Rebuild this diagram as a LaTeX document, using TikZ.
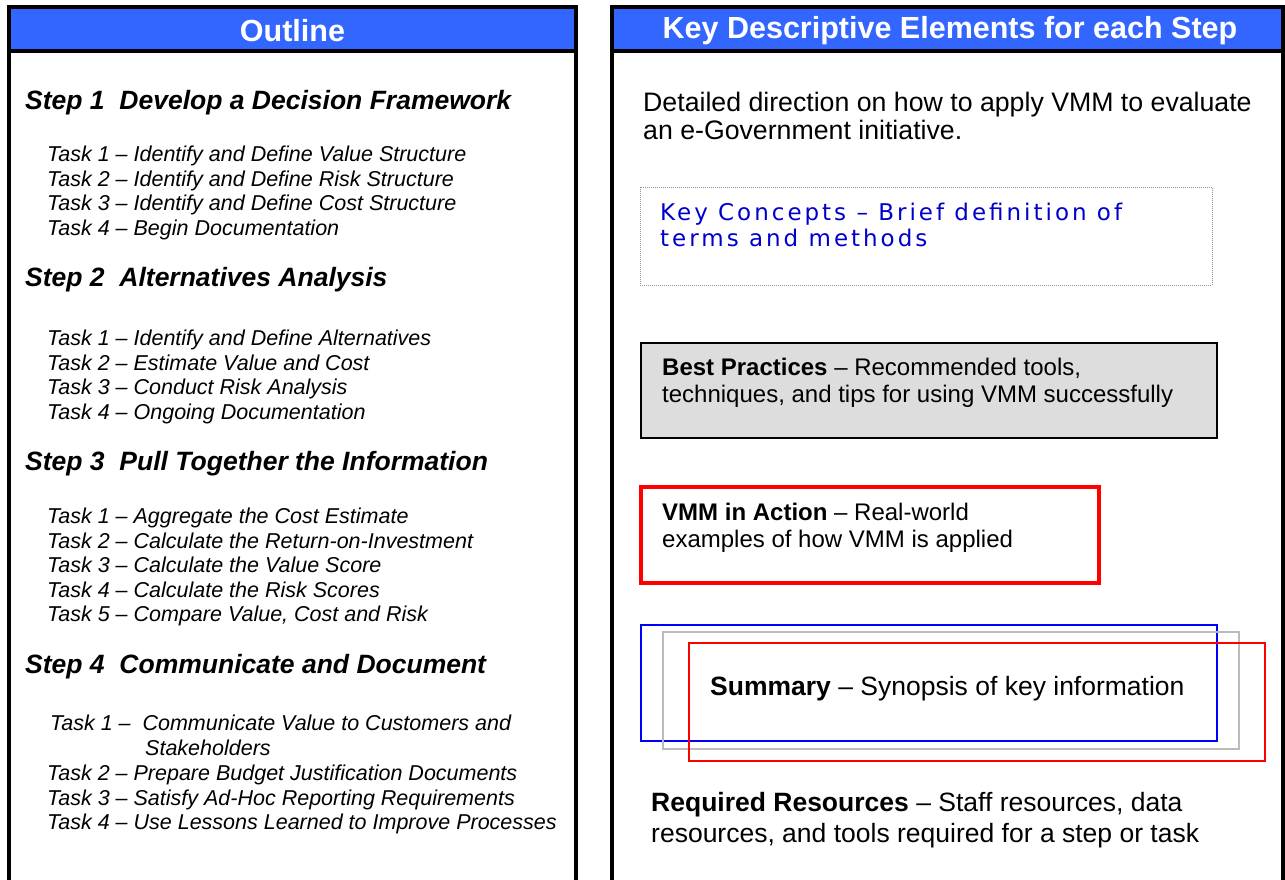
\documentclass[tikz,border=0pt]{standalone}
\usepackage{fontspec}
\setmainfont{Liberation Sans}
\newfontfamily\kcfont[LetterSpace=13]{DejaVu Sans}
\definecolor{hdrblue}{HTML}{3366FF}
\definecolor{kcblue}{HTML}{0000CC}
\definecolor{bpgray}{HTML}{DDDDDD}
\definecolor{sumgray}{HTML}{BBBBBB}
\tikzset{
  panelline/.style={line width=3.5pt, black},
  hdrtitle/.style={text=white, font=\fontsize{30.5}{34}\selectfont\bfseries, inner sep=0pt},
  steptitle/.style={anchor=west, inner sep=0pt, font=\fontsize{26.5}{30}\selectfont\bfseries\itshape},
  tasklist/.style={anchor=north west, inner sep=0pt, align=left, font=\fontsize{21.5}{24.5}\selectfont\itshape},
  bodytext/.style={anchor=north west, inner sep=0pt, align=left},
}
\begin{document}
\begin{tikzpicture}[x=1pt,y=-1pt]
\useasboundingbox (0,0) rectangle (1285,879);
\clip (0,0) rectangle (1285,879);
% ---------- left panel
\fill[hdrblue] (9,7) rectangle (576,51);
\draw[panelline] (9,900) -- (9,7) -- (576,7) -- (576,900);
\draw[panelline] (9,51) -- (576,51);
\node[hdrtitle] (outl) at (292.5,31) {Outline};
% ---------- right panel
\fill[hdrblue] (612,7) rectangle (1283,51);
\draw[panelline] (612,900) -- (612,7) -- (1283,7) -- (1283,900);
\draw[panelline] (612,51) -- (1283,51);
\node[hdrtitle] (kde) at (950,31) {Key Descriptive Elements for each Step};
% ---------- steps
\node[steptitle] (s1) at (25,103) {Step 1\ \ Develop a Decision Framework};
\node[tasklist] (t1) at (47,146) {Task 1 -- Identify and Define Value Structure\\Task 2 -- Identify and Define Risk Structure\\Task 3 -- Identify and Define Cost Structure\\Task 4 -- Begin Documentation};
\node[steptitle] (s2) at (25,280) {Step 2\ \ Alternatives Analysis};
\node[tasklist] (t2) at (47,330) {Task 1 -- Identify and Define Alternatives\\Task 2 -- Estimate Value and Cost\\Task 3 -- Conduct Risk Analysis\\Task 4 -- Ongoing Documentation};
\node[steptitle] (s3) at (25,464) {Step 3\ \ Pull Together the Information};
\node[tasklist] (t3) at (47,508) {Task 1 -- Aggregate the Cost Estimate\\Task 2 -- Calculate the Return-on-Investment\\Task 3 -- Calculate the Value Score\\Task 4 -- Calculate the Risk Scores\\Task 5 -- Compare Value, Cost and Risk};
\node[steptitle] (s4) at (25,667) {Step 4\ \ Communicate and Document};
\node[tasklist] (t4a) at (50,715) {Task 1 --\ \ Communicate Value to Customers and\\\hspace*{95pt}Stakeholders};
\node[tasklist] (t4b) at (47,765) {Task 2 -- Prepare Budget Justification Documents\\Task 3 -- Satisfy Ad-Hoc Reporting Requirements\\Task 4 -- Use Lessons Learned to Improve Processes};
% ---------- right side content
\node[bodytext, font=\fontsize{26.7}{28}\selectfont] (intro) at (643,92) {Detailed direction on how to apply VMM to evaluate\\an e-Government initiative.};
\draw[sumgray!80!black, densely dotted, line width=1pt] (640,187) rectangle (1212,285);
\node[bodytext, text=kcblue, font=\fontsize{23}{26}\kcfont] (kc) at (660,203) {Key Concepts – Brief definition of\\terms and methods};
\draw[fill=bpgray, draw=black, line width=2pt] (641,343) rectangle (1217,438);
\node[bodytext, font=\fontsize{24}{27}\selectfont] (bp) at (662,358) {\textbf{Best Practices} -- Recommended tools,\\techniques, and tips for using VMM successfully};
\draw[red, line width=3.5pt] (641,487) rectangle (1099,583);
\node[bodytext, font=\fontsize{24}{27}\selectfont] (via) at (662,503) {\textbf{VMM in Action} -- Real-world\\examples of how VMM is applied};
\draw[blue, line width=1.5pt] (641,625) rectangle (1217,741);
\draw[sumgray, line width=2pt] (663,632) rectangle (1239,749);
\draw[red, line width=1.5pt] (689,643) rectangle (1265,761);
\node[anchor=west, inner sep=0pt, font=\fontsize{26.5}{30}\selectfont] (sum) at (710,689) {\textbf{Summary} -- Synopsis of key information};
\node[bodytext, font=\fontsize{26.5}{31}\selectfont] (rr) at (651,792) {\textbf{Required Resources} -- Staff resources, data\\resources, and tools required for a step or task};
\end{tikzpicture}
\end{document}
